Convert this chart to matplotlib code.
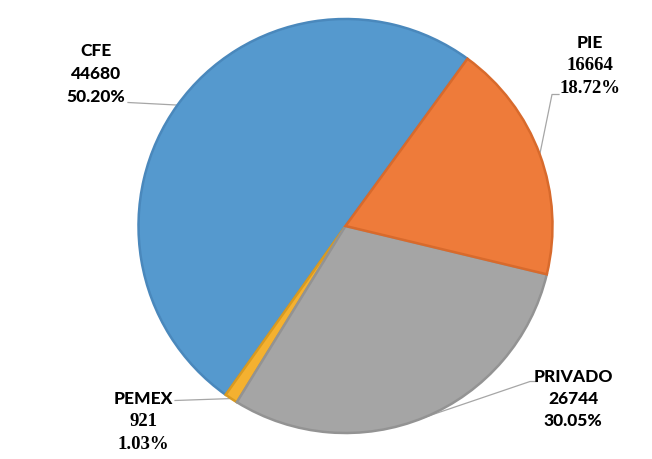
import numpy as np
import matplotlib.pyplot as plt

# datos (orden antihorario desde el inicio)
nombres = ["CFE", "PEMEX", "PRIVADO", "PIE"]
valores = [44680, 921, 26744, 16664]
colores = ["#5599CE", "#F4B130", "#A5A5A5", "#EE7B3A"]
bordes = ["#4A88BC", "#D99A20", "#939393", "#D86A2C"]

W, H = 652, 459
fig = plt.figure(figsize=(W / 100, H / 100), dpi=100)
ax = fig.add_axes([0, 0, 1, 1])

cx, cy = 345.5, H - 224.5
R = 207
inicio = 53.9

wedges, _ = ax.pie(valores, colors=colores, startangle=inicio, counterclock=True,
                   radius=R, center=(cx, cy), frame=True,
                   wedgeprops=dict(linewidth=1.8))
for w, b in zip(wedges, bordes):
    w.set_edgecolor(b)
ax.set_xlim(0, W)
ax.set_ylim(1.5, H + 1.5)
ax.set_aspect("auto")
ax.axis("off")

total = sum(valores)
sans = "Lato"
serif = "Liberation Serif"

# etiquetas: (x centro, y primera linea en pixeles, familia numeros, codo de la linea)
etiquetas = {
    "CFE": (96, 50, sans, [(128, 101)]),
    "PIE": (590, 42, serif, [(552, 93), (559, 93)]),
    "PRIVADO": (573, 375, sans, [(530, 380), (537, 380)]),
    "PEMEX": (143, 398, serif, [(175, 399)]),
}

for w, nombre, v in zip(wedges, nombres, valores):
    x, y, fam, codo = etiquetas[nombre]
    pct = v / total * 100
    tam = 12.5 if fam == sans else 13.5
    ax.text(x, H - y, nombre, ha="center", va="center", fontsize=12.5,
            fontweight="black", family=sans)
    ax.text(x, H - (y + 22.5), f"{v}", ha="center", va="center", fontsize=tam,
            fontweight="black", family=fam)
    ax.text(x, H - (y + 45), f"{pct:.2f}%", ha="center", va="center", fontsize=tam,
            fontweight="black", family=fam)
    # linea guia desde el borde de la porcion
    ang = np.deg2rad((w.theta1 + w.theta2) / 2)
    px = [cx + R * np.cos(ang)] + [p[0] for p in codo]
    py = [cy + R * np.sin(ang)] + [H - p[1] for p in codo]
    ax.plot(px, py, color="#A6A6A6", linewidth=0.9, zorder=0.5)

fig.savefig("out.png", dpi=100)
